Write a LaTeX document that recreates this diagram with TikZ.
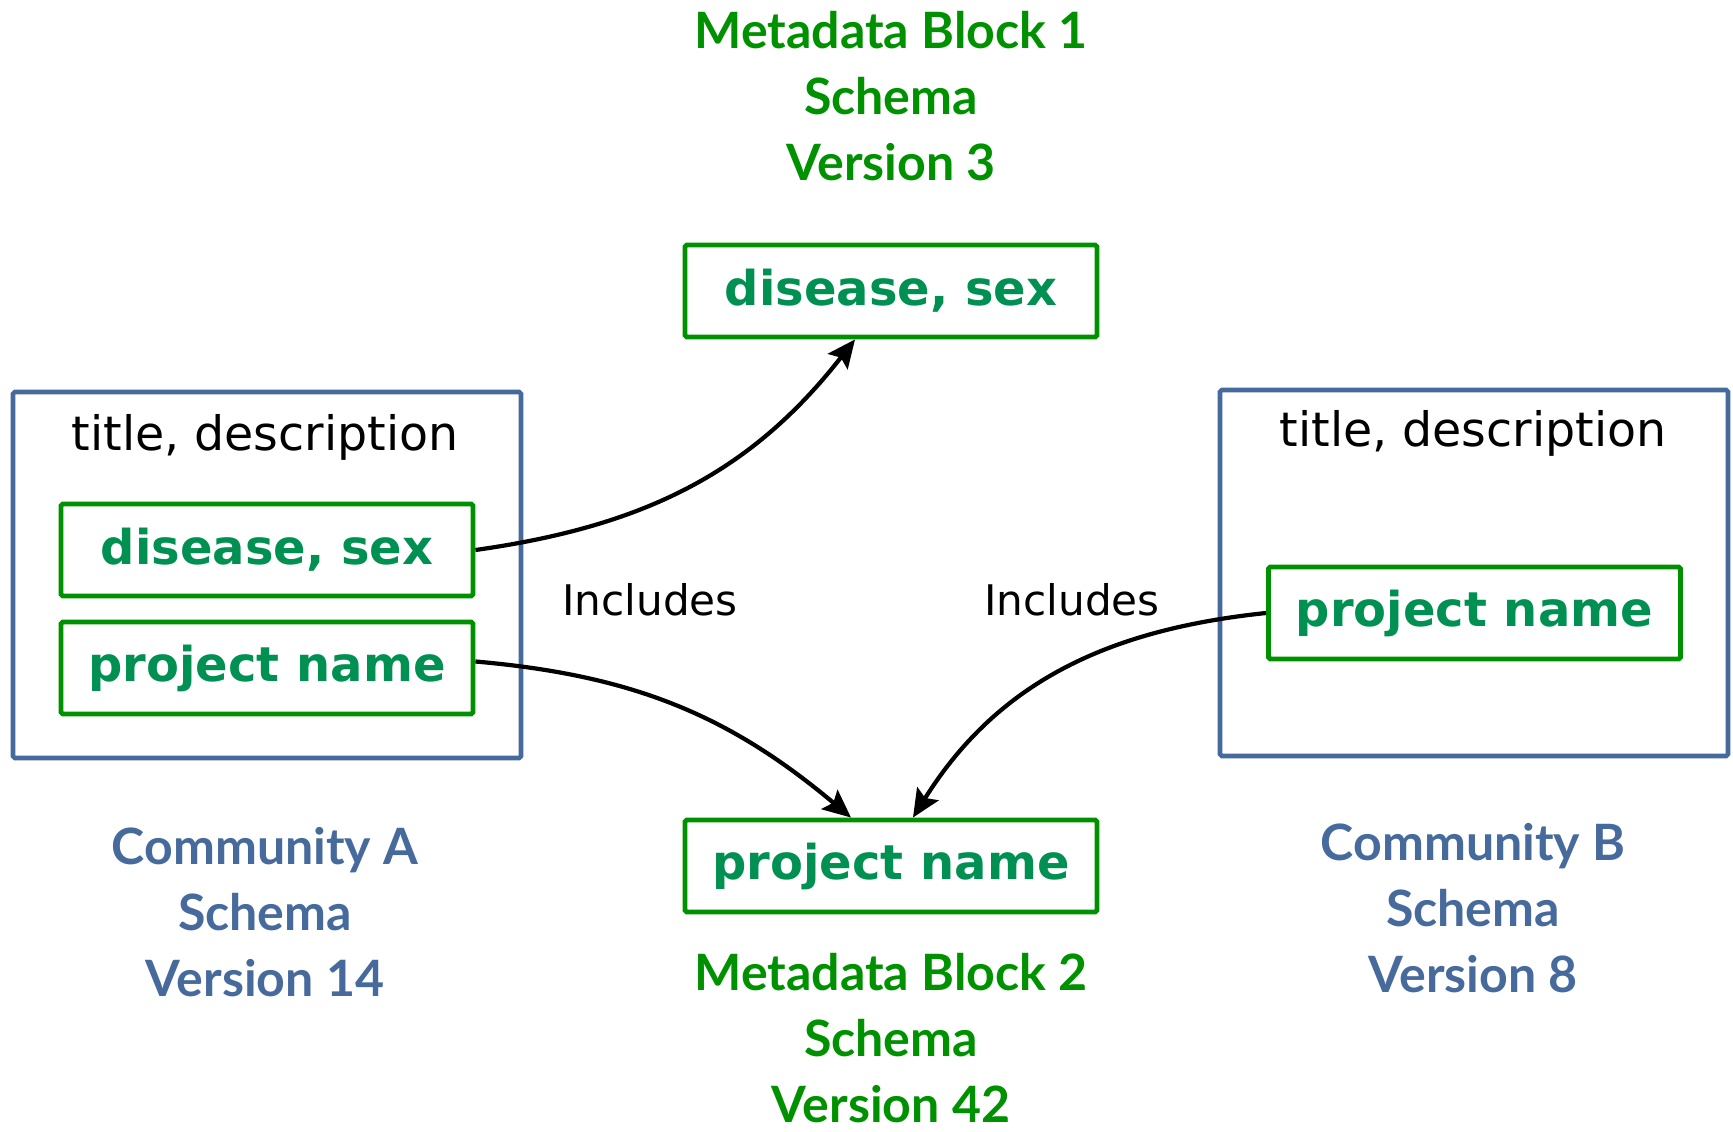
\documentclass[tikz,border=0pt]{standalone}
\usepackage{fontspec}
\usepackage{xcolor}
\usepackage{tikz}
\setmainfont{DejaVu Sans}
\newfontfamily\headfont{Lato}
\usetikzlibrary{positioning,arrows.meta,calc}

\definecolor{boxgreen}{RGB}{0,145,0}
\definecolor{fieldgreen}{RGB}{0,145,82}
\definecolor{schemablue}{RGB}{70,106,155}

\begin{document}
\begin{tikzpicture}[
  field/.style={draw=boxgreen, line width=2.8pt, rounded corners=1pt, minimum width=8.24cm, minimum height=1.84cm,
    text=fieldgreen, font=\fontsize{27.3}{30}\selectfont\bfseries},
  schemabox/.style={draw=schemablue, line width=2.6pt, rounded corners=1pt, minimum width=10.16cm, minimum height=7.32cm},
  plain/.style={font=\fontsize{27}{32}\selectfont},
  blocklabel/.style={text=boxgreen, align=center, inner sep=0pt, font=\headfont\bfseries\fontsize{28.5}{37.6}\selectfont},
  commlabel/.style={text=schemablue, align=center, inner sep=0pt, font=\headfont\bfseries\fontsize{28.5}{37.6}\selectfont},
  includes/.style={-{Stealth[length=0.56cm,width=0.5cm,inset=0.1cm]}, line width=2.4pt}
]
\useasboundingbox (0,0) rectangle (34.66,22.62);

% Community A schema
\node[schemabox] (commA) at (5.34,11.12) {};
\node[plain] (titleA) at (5.30,13.88) {title, description};
\node[field] (disA) at (5.34,11.62) {disease, sex};
\node[field] (projA) at (5.34,9.26) {project name};
\node[commlabel] (labA) at (5.30,4.38) {Community A\\Schema\\Version 14};

% Community B schema
\node[schemabox] (commB) at (29.48,11.16) {};
\node[plain] (titleB) at (29.46,13.96) {title, description};
\node[field] (projB) at (29.49,10.36) {project name};
\node[commlabel] (labB) at (29.46,4.46) {Community B\\Schema\\Version 8};

% Metadata blocks
\node[field] (dis1) at (17.82,16.80) {disease, sex};
\node[blocklabel] (lab1) at (17.82,20.70) {Metadata Block 1\\Schema\\Version 3};
\node[field] (proj2) at (17.82,5.30) {project name};
\node[blocklabel] (lab2) at (17.82,1.86) {Metadata Block 2\\Schema\\Version 42};

% Includes
\node[plain, font=\fontsize{24}{28}\selectfont] (incA) at (13.00,10.62) {Includes};
\node[plain, font=\fontsize{24}{28}\selectfont] (incB) at (21.44,10.62) {Includes};

\draw[includes] (disA.east) to[out=8, in=-128] ([xshift=-0.72cm]dis1.south);
\draw[includes] ([yshift=0.13cm]projA.east) to[out=-5, in=140] ([xshift=-0.80cm]proj2.north);
\draw[includes] (projB.west) to[out=186, in=58] ([xshift=0.44cm]proj2.north);

\end{tikzpicture}
\end{document}
